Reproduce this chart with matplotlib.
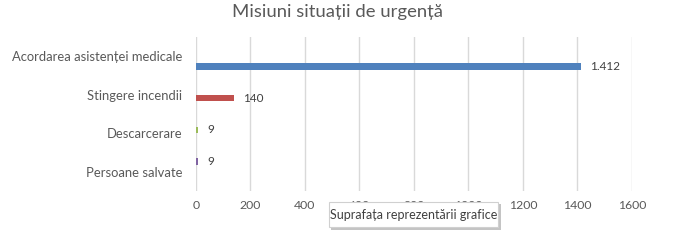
import matplotlib
matplotlib.use("Agg")
import matplotlib.pyplot as plt
from matplotlib.patches import Rectangle

categories = ["Acordarea asistenței medicale", "Stingere incendii", "Descarcerare", "Persoane salvate"]
values = [1412, 140, 9, 9]
value_labels = ["1.412", "140", "9", "9"]
colors = ["#4F81BD", "#C0504D", "#9BBB59", "#8064A2"]
xticks = [0, 200, 400, 600, 800, 1000, 1200, 1400, 1600]
title = "Misiuni situații de urgență"
tooltip = "Suprafața reprezentării grafice"

plt.rcParams['font.family'] = ['Lato', 'DejaVu Sans']
txt = "#595959"

W, H = 676, 248
fig = plt.figure(figsize=(W/100, H/100), dpi=100)
ax = fig.add_axes([196/W, 1-191/H, 436/W, 154/H])

n = len(categories)
bar_h = 0.17
for k, (cat, v, c, lab) in enumerate(zip(categories, values, colors, value_labels)):
    ypos = (n - 1 - k) + (k - 1.5) * 0.18
    ax.barh(ypos, v, height=bar_h, color=c, zorder=3)
    ax.annotate(lab, (v, ypos), xytext=(6.5, 0), textcoords="offset points",
                va="center", ha="left", fontsize=8.5, color="#404040")

ax.set_ylim(-0.5, n - 0.5)
ax.set_xlim(0, 1600)
ax.set_yticks(range(n))
ax.set_yticklabels(categories[::-1], fontsize=9.4, color=txt)
ax.set_xticks(xticks)
ax.set_xticklabels([str(t) for t in xticks], fontsize=8.8, color=txt)
ax.tick_params(axis="y", length=0, pad=10)
ax.tick_params(axis="x", length=0, pad=6.5)
ax.grid(axis="x", color="#D9D9D9", linewidth=1, zorder=0)
for s in ax.spines.values():
    s.set_visible(False)

fig.text(338/W, 1-12/H, title, ha="center", va="center", fontsize=13.3, color=txt)

# tooltip box with shadow (drawn over the axis labels, as in the reference)
def px_rect(x0, y0, x1, y1, **kw):
    return Rectangle((x0/W, 1-y1/H), (x1-x0)/W, (y1-y0)/H, transform=fig.transFigure, **kw)

fig.add_artist(px_rect(331, 204, 501, 230, facecolor="#C4C4C4", edgecolor="none", zorder=8))
fig.add_artist(px_rect(329, 202, 498, 227, facecolor="white", edgecolor="#D0D0D0", linewidth=0.8, zorder=9))
fig.text(413.5/W, 1-215/H, tooltip, ha="center", va="center", fontsize=9, color="#404040", zorder=10)

fig.savefig("out.png", dpi=100)
